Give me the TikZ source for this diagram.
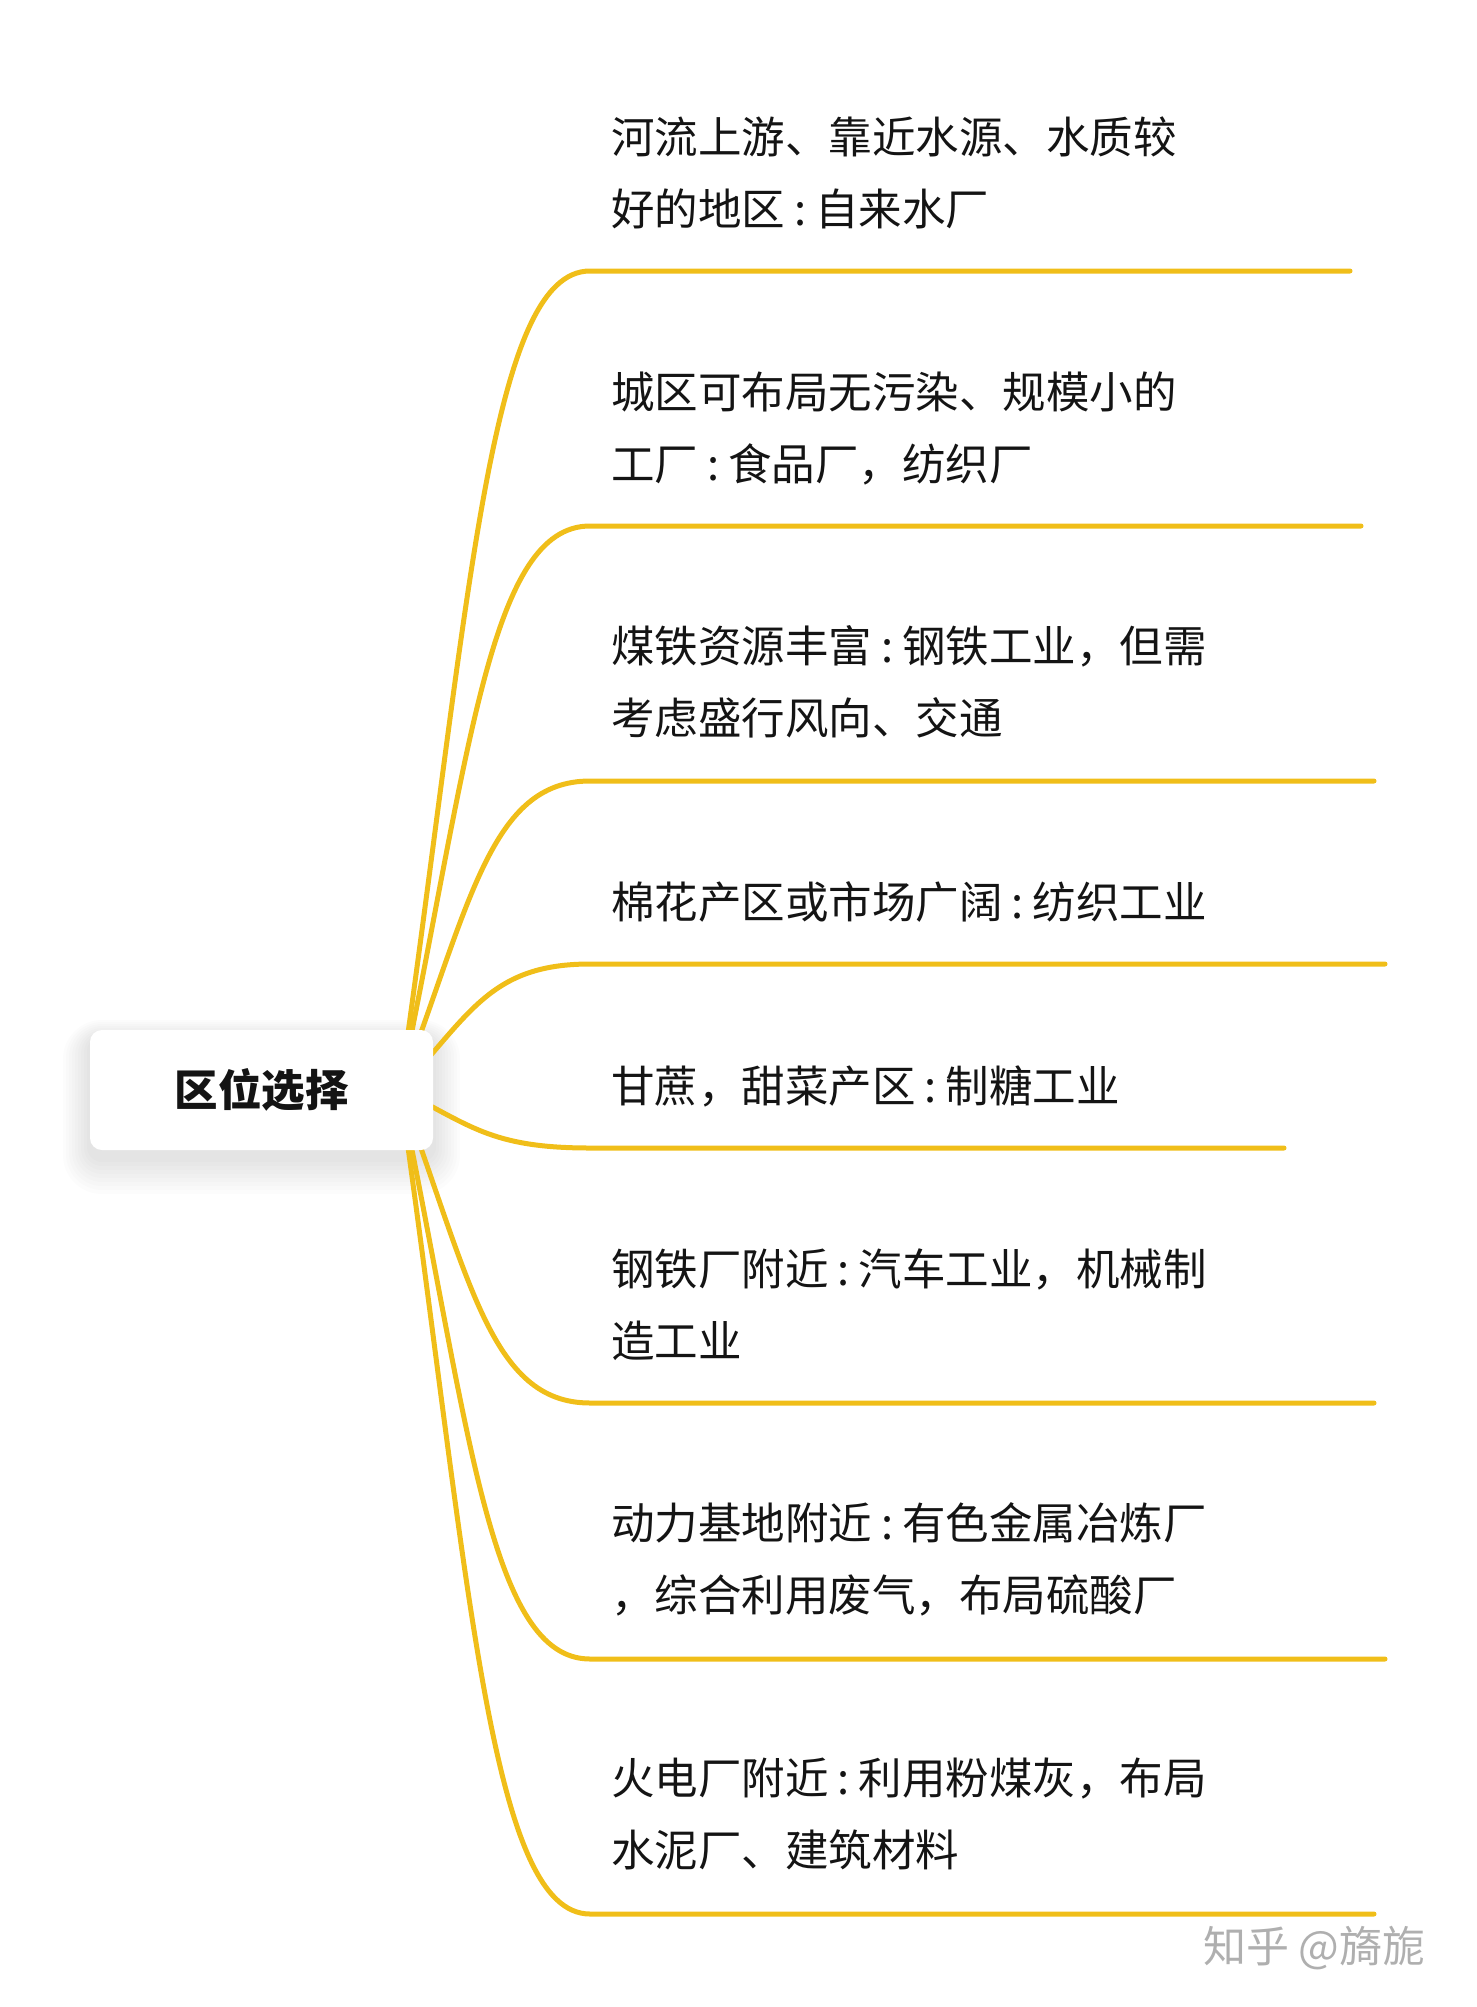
\documentclass[tikz,border=0pt]{standalone}
\usepackage{fontspec}
\setmainfont{Noto Sans CJK SC}
\definecolor{branchc}{RGB}{240,190,25}
\definecolor{txt}{RGB}{20,20,20}
\definecolor{wm}{RGB}{175,175,175}
\newcommand{\cln}{\kern9pt:\kern9pt}
\begin{document}
\begin{tikzpicture}[x=1pt,y=-1pt,
  branch/.style={draw=branchc,line width=5pt,line cap=round},
  leaf/.style={anchor=base west,inner sep=0pt,align=left,text=txt,
    font=\fontsize{43.5}{72}\selectfont},
  rootbox/.style={fill=white,rounded corners=12pt,minimum width=343pt,minimum height=120pt,
    inner sep=0pt,text=txt,font=\fontsize{43.5}{50}\selectfont\bfseries}]
\useasboundingbox (0,0) rectangle (1476,2007);
% soft shadow of the root box
\foreach \k in {1,...,9}{
  \fill[black,opacity=0.012,rounded corners=12pt+\k*3pt]
    (90-\k*3,1038-\k*2) rectangle (433+\k*3,1158+\k*4);
}
\coordinate (o) at (400,1090);
\foreach \i/\ye/\xe in {1/271/1350,2/526/1361,3/781/1374,4/964/1385,5/1148/1284,6/1403/1374,7/1659/1385,8/1914/1374}{
  \pgfmathsetmacro{\cy}{1090+0.6*(\ye-1090)}
  \coordinate (s\i) at (590,\ye);
  \coordinate (e\i) at (\xe,\ye);
  \draw[branch] (o) .. controls (470,\cy) and (490,\ye) .. (s\i) -- (e\i);
}
\node[rootbox] (root) at (261.5,1090) {区位选择};
\node[leaf] (t1) at (611,225) {河流上游、靠近水源、水质较\\好的地区\cln 自来水厂};
\node[leaf] (t2) at (611,480) {城区可布局无污染、规模小的\\工厂\cln 食品厂，纺织厂};
\node[leaf] (t3) at (611,734) {煤铁资源丰富\cln 钢铁工业，但需\\考虑盛行风向、交通};
\node[leaf] (t4) at (611,918) {棉花产区或市场广阔\cln 纺织工业};
\node[leaf] (t5) at (611,1102) {甘蔗，甜菜产区\cln 制糖工业};
\node[leaf] (t6) at (611,1357) {钢铁厂附近\cln 汽车工业，机械制\\造工业};
\node[leaf] (t7) at (611,1611) {动力基地附近\cln 有色金属冶炼厂\\，综合利用废气，布局硫酸厂};
\node[leaf] (t8) at (611,1866) {火电厂附近\cln 利用粉煤灰，布局\\水泥厂、建筑材料};
\node[anchor=base west,inner sep=0pt,text=wm,font=\fontsize{43}{48}\selectfont] (wmark) at (1203,1962) {知乎 @旖旎};
\end{tikzpicture}
\end{document}
